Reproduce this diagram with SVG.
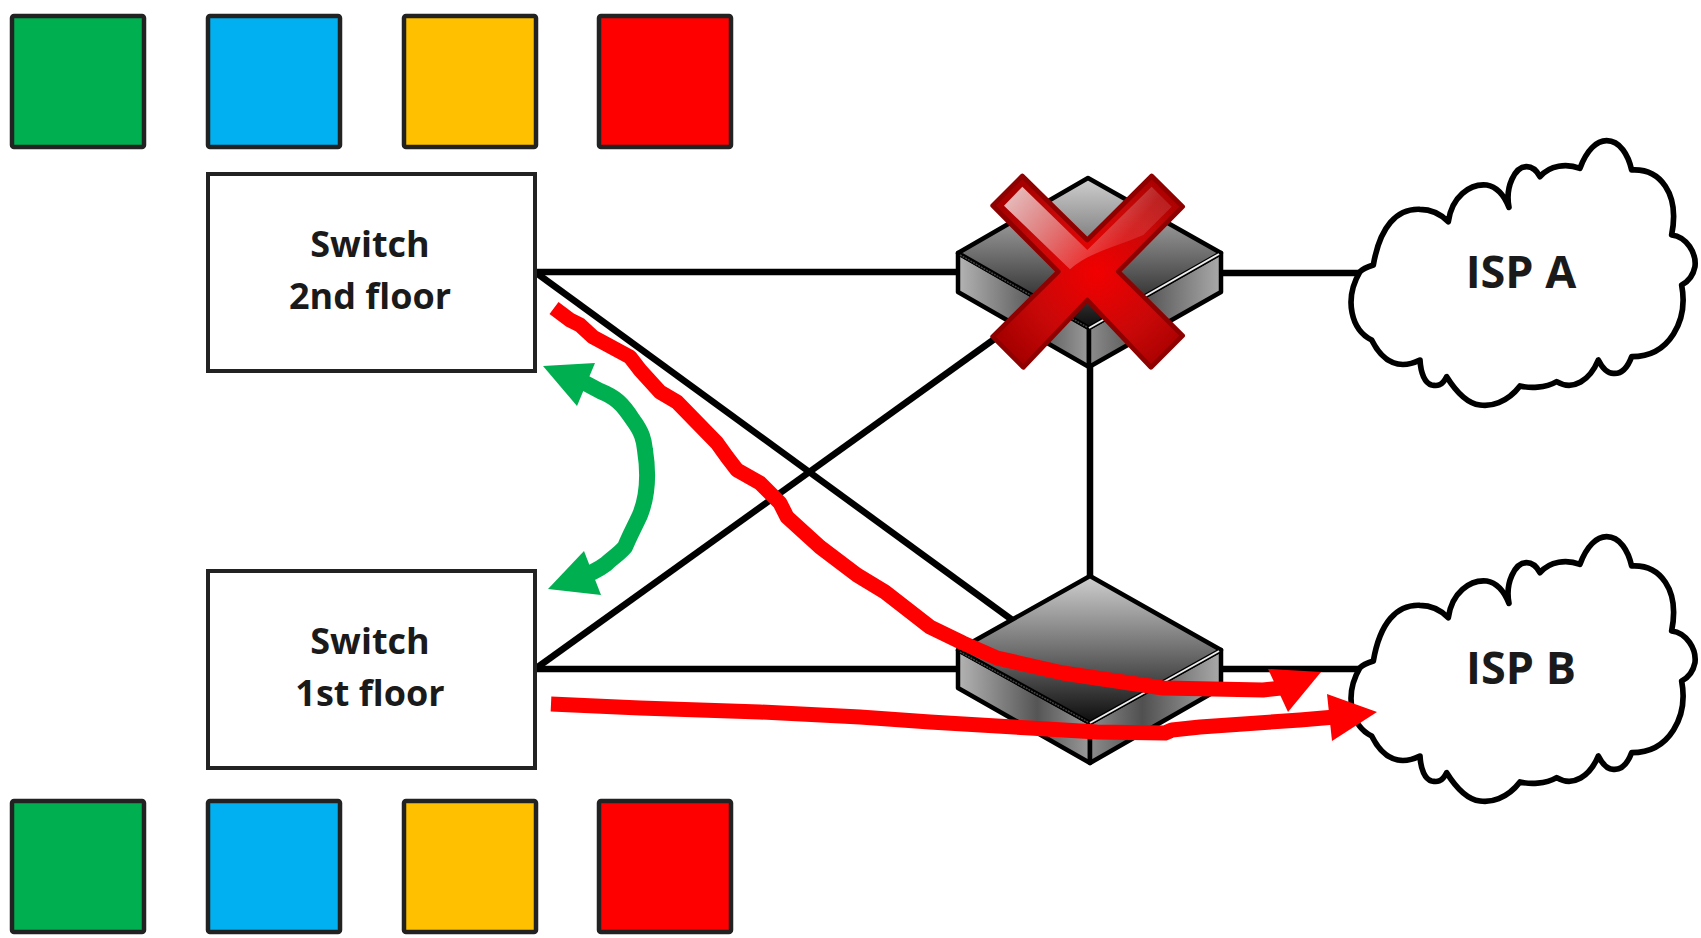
<svg xmlns="http://www.w3.org/2000/svg" xmlns:xlink="http://www.w3.org/1999/xlink" width="1701" height="938" viewBox="0 0 1701 938">
<style>
.sq{stroke:#222;stroke-width:4.5;}
.box{fill:#fff;stroke:#222;stroke-width:4;}
.lbl{font-family:"Open Sans","Liberation Sans",sans-serif;font-weight:700;fill:#1a1a1a;text-anchor:middle;}
.sw{font-size:36px;}
.isp{font-size:45px;}
.link{stroke:#000;stroke-width:6.5;fill:none;}
.cloud{fill:#fff;stroke:#000;stroke-width:17;stroke-linejoin:round;}
.edge{stroke:#000;stroke-width:4.5;stroke-linejoin:round;}
.red{fill:none;stroke:#f00;stroke-width:15;stroke-linejoin:round;}
.grn{fill:none;stroke:#00b050;stroke-width:16;stroke-linejoin:round;}
</style>
<defs>
<linearGradient id="top1" x1="0" y1="0" x2="0" y2="1"><stop offset="0" stop-color="#cfcfcf"/><stop offset="0.5" stop-color="#707070"/><stop offset="1" stop-color="#0c0c0c"/></linearGradient>
<linearGradient id="lf" x1="0" y1="0" x2="1" y2="0"><stop offset="0" stop-color="#b4b4b4"/><stop offset="0.6" stop-color="#555"/><stop offset="1" stop-color="#9a9a9a"/></linearGradient>
<linearGradient id="rf" x1="0" y1="0" x2="1" y2="0"><stop offset="0" stop-color="#8c8c8c"/><stop offset="0.4" stop-color="#505050"/><stop offset="1" stop-color="#aaa"/></linearGradient>
<radialGradient id="xg" gradientUnits="userSpaceOnUse" cx="500" cy="370" r="340"><stop offset="0" stop-color="#f20000"/><stop offset="0.6" stop-color="#c80808"/><stop offset="1" stop-color="#a80000"/></radialGradient>
<linearGradient id="xh" gradientUnits="userSpaceOnUse" x1="250" y1="110" x2="520" y2="340"><stop offset="0" stop-color="#fff" stop-opacity="0.75"/><stop offset="1" stop-color="#fff" stop-opacity="0.12"/></linearGradient>
<path id="cl" class="cloud" d="M130,405 C150,290 200,235 270,238 C305,238 335,255 355,275 C365,200 420,160 470,165 C500,170 520,190 537,232 C525,170 555,110 590,110 C610,110 622,125 630,140 C660,105 710,100 750,115 C770,60 800,32 830,32 C870,32 895,75 905,120 C990,115 1050,190 1025,315 C1070,320 1100,370 1095,410 C1090,435 1075,455 1055,465 C1075,570 1020,680 905,680 C890,720 870,732 850,730 C830,730 815,710 805,690 C780,750 730,785 680,755 C645,775 600,775 570,768 C530,820 480,830 450,825 C410,820 375,780 350,740 C335,770 320,768 305,765 C285,760 272,730 270,690 C210,720 160,700 125,630 C65,600 40,510 90,425 C100,415 115,410 130,405 Z"/>
</defs>
<rect width="1701" height="938" fill="#fff"/>

<g id="connectors">
<path class="link" d="M535,272H960"/>
<path class="link" d="M1220,273H1365"/>
<path class="link" d="M535,272L1015,622"/>
<path class="link" d="M535,669L1000,335"/>
<path class="link" d="M535,669H960"/>
<path class="link" d="M1220,669H1365"/>
<path class="link" d="M1090,360V580"/>
</g>

<g id="port-green-top"><rect class="sq" x="12" y="16" width="132" height="131" rx="2" fill="#00b050"/></g>
<g id="port-blue-top"><rect class="sq" x="208" y="16" width="132" height="131" rx="2" fill="#00b0f0"/></g>
<g id="port-yellow-top"><rect class="sq" x="404" y="16" width="132" height="131" rx="2" fill="#ffc000"/></g>
<g id="port-red-top"><rect class="sq" x="599" y="16" width="132" height="131" rx="2" fill="#f00"/></g>
<g id="port-green-bottom"><rect class="sq" x="12" y="801" width="132" height="131" rx="2" fill="#00b050"/></g>
<g id="port-blue-bottom"><rect class="sq" x="208" y="801" width="132" height="131" rx="2" fill="#00b0f0"/></g>
<g id="port-yellow-bottom"><rect class="sq" x="404" y="801" width="132" height="131" rx="2" fill="#ffc000"/></g>
<g id="port-red-bottom"><rect class="sq" x="599" y="801" width="132" height="131" rx="2" fill="#f00"/></g>

<g id="switch-2nd">
<rect class="box" x="208" y="174" width="327" height="197"/>
<text class="lbl sw" x="370" y="257">Switch</text>
<text class="lbl sw" x="370" y="309">2nd floor</text>
</g>
<g id="switch-1st">
<rect class="box" x="208" y="571" width="327" height="197"/>
<text class="lbl sw" x="370" y="654">Switch</text>
<text class="lbl sw" x="370" y="706">1st floor</text>
</g>

<g id="router-a">
<path fill="url(#lf)" class="edge" d="M958,253V292L1089,367V328Z"/>
<path fill="url(#rf)" class="edge" d="M1221,253V292L1089,367V328Z"/>
<path fill="url(#top1)" class="edge" d="M1088,178L1221,253L1089,328L958,253Z"/>
<path d="M1089,328L1219,254" stroke="#eee" stroke-width="2" fill="none"/>
<path d="M960,255L1087,327" stroke="#444" stroke-width="1.5" stroke-dasharray="2 1" fill="none"/>
</g>
<g id="router-b">
<path fill="url(#lf)" class="edge" d="M958,650V688L1090,763V723Z"/>
<path fill="url(#rf)" class="edge" d="M1221,650V688L1090,763V723Z"/>
<path fill="url(#top1)" class="edge" d="M1090,576L1221,650L1090,723L958,650Z"/>
<path d="M1090,723L1219,651" stroke="#eee" stroke-width="2" fill="none"/>
<path d="M960,652L1088,722" stroke="#444" stroke-width="1.5" stroke-dasharray="2 1" fill="none"/>
</g>

<g id="fail-x" transform="translate(930,150) scale(0.3333)">
<path fill="url(#xg)" stroke="#8f0000" stroke-width="14" stroke-linejoin="round" d="M277,78L472,270L665,78L758,170L565,365L758,557L663,652L472,450L280,652L188,560L385,365L188,167Z"/>
<path fill="url(#xh)" d="M277,110L472,300L665,110L725,170L640,255C560,290 470,310 420,358L222,167Z"/>
</g>

<g id="isp-a">
<use xlink:href="#cl" href="#cl" transform="translate(1330,130) scale(0.3333)"/>
<text class="lbl isp" x="1521" y="288">ISP A</text>
</g>
<g id="isp-b">
<use xlink:href="#cl" href="#cl" transform="translate(1330,526) scale(0.3333)"/>
<text class="lbl isp" x="1521" y="684">ISP B</text>
</g>

<g id="traffic-arrows">
<path class="red" d="M554,308L570,320L580,325L593,337L630,357L640,370L660,392L677,402L717,443L727,457L737,470L760,483L780,503L787,517L820,547L857,575L885,592L930,627L963,643L997,658L1063,673L1163,688L1263,690L1290,687"/>
<path fill="#f00" d="M1268,669L1321,672L1288,712Z"/>
<path class="red" d="M551,704L640,708L760,712L860,717L930,722L1030,728L1097,732L1165,733L1172,730L1200,727L1300,720L1335,717"/>
<path fill="#f00" d="M1327,694L1377,712L1332,741Z"/>
<path class="grn" d="M585,383L600,391C615,397 622,403 633,420C642,432 644,440 645,450C649,475 648,495 640,515C633,530 630,535 625,547C618,555 612,558 606,564C598,570 590,574 578,578"/>
<path fill="#00b050" d="M543,366L595,363L577,406Z"/>
<path fill="#00b050" d="M584,551L548,589L601,595Z"/>
</g>
</svg>
